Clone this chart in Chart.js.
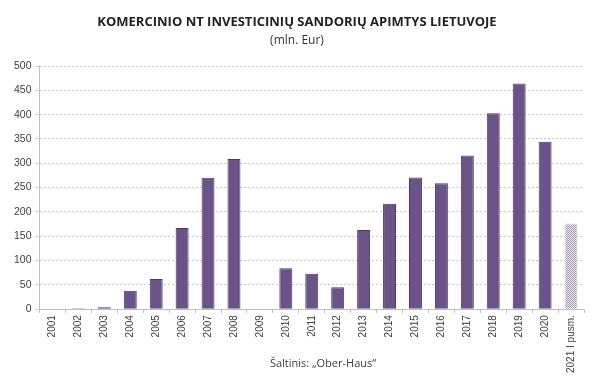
<!DOCTYPE html>
<html>
<head>
<meta charset="utf-8">
<script src="https://cdn.jsdelivr.net/npm/chart.js@4.4.0/dist/chart.umd.min.js"></script>
<style>
html,body{margin:0;padding:0;background:#fff;}
#wrap{width:600px;height:387px;position:relative;}
</style>
</head>
<body>
<div id="wrap"><canvas id="c" width="600" height="387"></canvas></div>
<script>
const categories = ["2001","2002","2003","2004","2005","2006","2007","2008","2009","2010","2011","2012","2013","2014","2015","2016","2017","2018","2019","2020","2021 I pusm."];
const values = [0,2,4,38,62,167,270,309,0,84,73,45,163,217,271,259,316,403,464,344,176];
const yTicks = [0,50,100,150,200,250,300,350,400,450,500];
const titleText = "KOMERCINIO NT INVESTICINIŲ SANDORIŲ APIMTYS LIETUVOJE";
const subtitleText = "(mln. Eur)";
const sourceText = "Šaltinis: „Ober-Haus\u201C";

function makePattern(){
  const p = document.createElement('canvas');
  p.width = 2; p.height = 2;
  const g = p.getContext('2d');
  g.fillStyle = '#e6e3ec'; g.fillRect(0,0,2,2);
  g.fillStyle = '#a79fba'; g.fillRect(0,0,1,1); g.fillRect(1,1,1,1);
  return g.createPattern(p,'repeat');
}
const pattern = makePattern();
const lastIdx = categories.length - 1;
const fills = values.map((v,i)=> i===lastIdx ? pattern : '#6a5387');
const borders = values.map((v,i)=> i===lastIdx ? '#d0ccd9' : '#4d3670');

const sourcePlugin = {
  id:'source',
  afterDraw(chart){
    const ctx = chart.ctx;
    ctx.save();
    ctx.font = '11px "Open Sans", sans-serif';
    ctx.fillStyle = '#404040';
    ctx.textAlign = 'center';
    ctx.textBaseline = 'middle';
    ctx.fillText(sourceText, 323, 364);
    ctx.restore();
  }
};

new Chart(document.getElementById('c'), {
  type:'bar',
  data:{
    labels:categories,
    datasets:[{
      data:values,
      backgroundColor:fills,
      borderColor:borders,
      borderWidth:1,
      barPercentage:0.5,
      categoryPercentage:1.0
    }]
  },
  options:{
    responsive:false,
    animation:false,
    devicePixelRatio:1,
    layout:{padding:{left:10,right:16,top:0,bottom:12}},
    plugins:{
      legend:{display:false},
      tooltip:{enabled:false},
      title:{display:true,text:titleText,color:'#222',font:{family:'"Open Sans", sans-serif',size:13,weight:'bold'},padding:{top:14,bottom:0}},
      subtitle:{display:true,text:subtitleText,color:'#333',font:{family:'"Open Sans", sans-serif',size:12},padding:{top:4,bottom:18}}
    },
    scales:{
      x:{
        grid:{display:true,offset:true,drawOnChartArea:false,drawTicks:true,tickLength:4,color:'#bfbfbf'},
        border:{display:true,color:'#bfbfbf'},
        ticks:{minRotation:90,maxRotation:90,autoSkip:false,color:'#404040',font:{family:'"Liberation Sans", Arial, sans-serif',size:10},padding:2}
      },
      y:{
        min:0,max:500,
        afterBuildTicks(axis){ axis.ticks = yTicks.map(v=>({value:v})); },
        grid:{color:'#c8c8c8',tickLength:4,drawTicks:true},
        border:{display:true,color:'#bfbfbf',dash:[2,2]},
        ticks:{color:'#404040',font:{family:'"Liberation Sans", Arial, sans-serif',size:10.5},padding:4}
      }
    }
  },
  plugins:[sourcePlugin]
});
</script>
</body>
</html>
